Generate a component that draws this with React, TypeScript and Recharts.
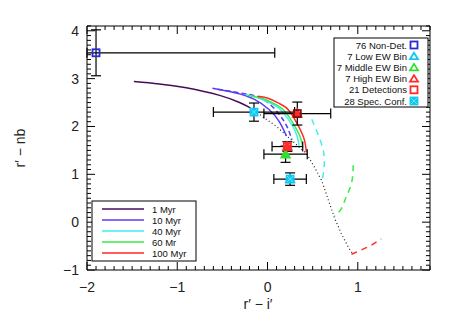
import React from 'react'
import { ComposedChart, Line, Scatter, XAxis, YAxis, ErrorBar } from 'recharts'

// model tracks (r'-i', r'-nb)
const myr1 = [
  { x: -1.48, y: 2.94 }, { x: -1.2, y: 2.89 }, { x: -0.9, y: 2.81 },
  { x: -0.53, y: 2.65 }, { x: -0.31, y: 2.5 }, { x: -0.19, y: 2.39 },
]
const myr10 = [
  { x: -0.61, y: 2.8 }, { x: -0.35, y: 2.7 }, { x: -0.15, y: 2.57 },
  { x: 0.02, y: 2.35 }, { x: 0.13, y: 2.1 }, { x: 0.21, y: 1.8 },
]
const myr10b = [
  { x: -0.55, y: 2.78 }, { x: -0.3, y: 2.7 }, { x: -0.05, y: 2.57 },
  { x: 0.13, y: 2.25 }, { x: 0.22, y: 1.98 }, { x: 0.27, y: 1.72 },
]
const myr40 = [
  { x: -0.24, y: 2.67 }, { x: -0.08, y: 2.58 }, { x: 0.07, y: 2.45 }, { x: 0.17, y: 2.3 },
  { x: 0.28, y: 2.0 }, { x: 0.33, y: 1.78 }, { x: 0.35, y: 1.6 },
]
const myr60 = [
  { x: -0.22, y: 2.65 }, { x: -0.05, y: 2.58 }, { x: 0.1, y: 2.45 }, { x: 0.2, y: 2.3 },
  { x: 0.31, y: 1.98 }, { x: 0.37, y: 1.74 }, { x: 0.39, y: 1.56 },
]
const myr100 = [
  { x: -0.11, y: 2.63 }, { x: 0.02, y: 2.58 }, { x: 0.14, y: 2.47 }, { x: 0.24, y: 2.33 },
  { x: 0.35, y: 1.98 }, { x: 0.41, y: 1.71 }, { x: 0.43, y: 1.46 },
]
const dashed40 = [
  { x: 0.49, y: 2.15 }, { x: 0.55, y: 1.88 }, { x: 0.61, y: 1.56 },
  { x: 0.63, y: 1.29 }, { x: 0.62, y: 1.04 }, { x: 0.6, y: 0.83 },
]
const dashed60 = [
  { x: 0.95, y: 1.19 }, { x: 0.93, y: 0.81 }, { x: 0.87, y: 0.52 },
  { x: 0.82, y: 0.29 }, { x: 0.74, y: 0.12 },
]
const dashed100 = [
  { x: 0.93, y: -0.67 }, { x: 1.04, y: -0.58 }, { x: 1.15, y: -0.48 }, { x: 1.26, y: -0.35 },
]
const dotted = [
  { x: -0.18, y: 2.38 }, { x: -0.05, y: 2.2 }, { x: 0.1, y: 2.0 }, { x: 0.25, y: 1.74 },
  { x: 0.38, y: 1.52 }, { x: 0.43, y: 1.44 }, { x: 0.52, y: 1.15 }, { x: 0.6, y: 0.87 },
  { x: 0.74, y: 0.1 }, { x: 0.82, y: -0.25 }, { x: 0.9, y: -0.54 }, { x: 0.95, y: -0.68 },
]

// binned observations with errors
const nonDet = [{ x: -1.9, y: 3.54, ex: 1.98, ey: 0.48 }]
const specConf = [{ x: -0.15, y: 2.3, ex: 0.45, ey: 0.19 }]
const highEW = [{ x: 0.33, y: 2.27, ex: 0.37, ey: 0.24 }]
const detections = [{ x: 0.22, y: 1.58, ex: 0.17, ey: 0.1 }]
const middleEW = [{ x: 0.2, y: 1.42, ex: 0.24, ey: 0.17 }]
const lowEW = [{ x: 0.25, y: 0.9, ex: 0.18, ey: 0.13 }]

const xDomain = [-2, 1.8]
const yDomain = [-1, 4.1]
const xMajor = [-2, -1, 0, 1]
const yMajor = [-1, 0, 1, 2, 3, 4]
const xTicks: number[] = []
for (let i = -20; i <= 18; i++) xTicks.push(i / 10)
const yTicks: number[] = []
for (let i = -10; i <= 41; i++) yTicks.push(i / 10)

const C1 = '#4a0a5a'
const C10 = '#5a3cf0'
const C40 = '#40eef0'
const C60 = '#3cea4a'
const C100 = '#ff2a2a'
const CNON = '#2a2ad0'
const CSPEC = '#10c8f0'

const tickFont = { fontFamily: 'Liberation Sans', fontSize: 14, fill: '#222' }
const isMajor = (v: number, majors: number[]) => majors.some((m) => Math.abs(m - v) < 1e-6)
const fmt = (v: number) => {
  const r = Math.round(v)
  return r < 0 ? '\u2212' + Math.abs(r) : String(r)
}

// error bars are cut at the plot frame, like the original
const clip = (pts: any[]) =>
  pts.map((d) => ({
    ...d,
    exr: [Math.min(d.ex, d.x - xDomain[0]), Math.min(d.ex, xDomain[1] - d.x)],
    eyr: [Math.min(d.ey, d.y - yDomain[0]), Math.min(d.ey, yDomain[1] - d.y)],
  }))

const BottomTick = (p: any) => {
  const m = isMajor(p.payload.value, xMajor)
  return (
    <g>
      <line x1={p.x} x2={p.x} y1={p.y} y2={p.y - (m ? 8 : 4)} stroke='#000' />
      {m && <text x={p.x} y={p.y + 22} textAnchor='middle' {...tickFont}>{fmt(p.payload.value)}</text>}
    </g>
  )
}
const TopTick = (p: any) => {
  const m = isMajor(p.payload.value, xMajor)
  return <line x1={p.x} x2={p.x} y1={p.y} y2={p.y + (m ? 8 : 4)} stroke='#000' />
}
const LeftTick = (p: any) => {
  const m = isMajor(p.payload.value, yMajor)
  return (
    <g>
      <line x1={p.x} x2={p.x + (m ? 8 : 4)} y1={p.y} y2={p.y} stroke='#000' />
      {m && <text x={p.x - 8} y={p.y + 5} textAnchor='end' {...tickFont}>{fmt(p.payload.value)}</text>}
    </g>
  )
}
const RightTick = (p: any) => {
  const m = isMajor(p.payload.value, yMajor)
  return <line x1={p.x} x2={p.x - (m ? 8 : 4)} y1={p.y} y2={p.y} stroke='#000' />
}

const Square = ({ cx, cy, color, filled }: any) => (
  <g>
    <rect x={cx - 3.5} y={cy - 3.5} width={7} height={7} fill={filled ? color : 'none'} stroke={color} strokeWidth={1.8} />
    {filled && <path d={`M${cx - 3} ${cy - 3}L${cx + 3} ${cy + 3}M${cx + 3} ${cy - 3}L${cx - 3} ${cy + 3}`} stroke='#7fe4ff' strokeWidth={0.8} />}
  </g>
)
const Tri = ({ cx, cy, color }: any) => (
  <path d={`M${cx} ${cy - 4.5}L${cx + 4.5} ${cy + 3.5}L${cx - 4.5} ${cy + 3.5}Z`} fill={color} stroke={color} strokeWidth={1.5} />
)

const legendFont = { fontFamily: 'Liberation Sans', fontSize: 9.5, fill: '#111' }
const pointLegend = [
  { label: '76 Non-Det.', kind: 'sq', color: CNON },
  { label: '7 Low EW Bin', kind: 'tri', color: CSPEC },
  { label: '7 Middle EW Bin', kind: 'tri', color: '#30e030' },
  { label: '7 High EW Bin', kind: 'tri', color: C100 },
  { label: '21 Detections', kind: 'sq', color: C100 },
  { label: '28 Spec. Conf.', kind: 'fsq', color: CSPEC },
]
const lineLegend = [
  { label: '1 Myr', color: C1 },
  { label: '10 Myr', color: C10 },
  { label: '40 Myr', color: C40 },
  { label: '60 Mr', color: C60 },
  { label: '100 Myr', color: C100 },
]

export default function App() {
  const lineProps = { dataKey: 'y', dot: false, isAnimationActive: false, strokeWidth: 1.5 }
  const err = { width: 5, stroke: '#000', strokeWidth: 1.2 }
  const bars = [
    <ErrorBar key='ex' dataKey='exr' direction='x' {...err} />,
    <ErrorBar key='ey' dataKey='eyr' direction='y' {...err} />,
  ]
  return (
    <div style={{ position: 'relative', width: 449, height: 318 }}>
      <ComposedChart width={449} height={318} margin={{ top: 8, right: 17, bottom: 26, left: 49 }}>
        <XAxis xAxisId={0} dataKey='x' type='number' domain={xDomain} allowDataOverflow ticks={xTicks}
          interval={0} tickSize={0} tickMargin={0} height={30} stroke='#000' tick={<BottomTick />} />
        <XAxis xAxisId='top' orientation='top' dataKey='x' type='number' domain={xDomain} allowDataOverflow
          ticks={xTicks} interval={0} tickSize={0} tickMargin={0} height={10} stroke='#000' tick={<TopTick />} />
        <YAxis yAxisId={0} dataKey='y' type='number' domain={yDomain} allowDataOverflow ticks={yTicks}
          interval={0} tickSize={0} tickMargin={0} width={30} stroke='#000' tick={<LeftTick />} />
        <YAxis yAxisId='right' orientation='right' dataKey='y' type='number' domain={yDomain} allowDataOverflow
          ticks={yTicks} interval={0} tickSize={0} tickMargin={0} width={10} stroke='#000' tick={<RightTick />} />

        <Line {...lineProps} data={dotted} type='linear' stroke='#222' strokeWidth={1.2} strokeDasharray='1 2.6' />
        <Line {...lineProps} data={myr1} type='natural' stroke={C1} />
        <Line {...lineProps} data={myr10} type='natural' stroke={C10} />
        <Line {...lineProps} data={myr10b} type='natural' stroke={C10} strokeDasharray='5 3' />
        <Line {...lineProps} data={myr40} type='natural' stroke={C40} />
        <Line {...lineProps} data={myr60} type='natural' stroke={C60} />
        <Line {...lineProps} data={myr100} type='natural' stroke={C100} />
        <Line {...lineProps} data={dashed40} type='natural' stroke={C40} strokeDasharray='6 5' />
        <Line {...lineProps} data={dashed60} type='natural' stroke={C60} strokeDasharray='6 5' />
        <Line {...lineProps} data={dashed100} type='natural' stroke={C100} strokeDasharray='6 5' />

        <Scatter data={clip(nonDet)} isAnimationActive={false} shape={(p: any) => <Square {...p} color={CNON} />}>
          {bars}
        </Scatter>
        <Scatter data={clip(specConf)} isAnimationActive={false} shape={(p: any) => <Square {...p} color={CSPEC} filled />}>
          {bars}
        </Scatter>
        <Scatter data={clip(highEW)} isAnimationActive={false} shape={(p: any) => <g><Tri {...p} color={C100} /><Square {...p} color='#801010' /></g>}>
          {bars}
        </Scatter>
        <Scatter data={clip(middleEW)} isAnimationActive={false} shape={(p: any) => <Tri {...p} color='#30e030' />}>
          {bars}
        </Scatter>
        <Scatter data={clip(detections)} isAnimationActive={false} shape={(p: any) => <g><Tri {...p} color={C100} /><Square {...p} color={C100} /></g>}>
          {bars}
        </Scatter>
        <Scatter data={clip(lowEW)} isAnimationActive={false} shape={(p: any) => <g><Tri {...p} color={CSPEC} /><Square {...p} color={CSPEC} filled /></g>}>
          {bars}
        </Scatter>
      </ComposedChart>

      <svg width={449} height={318} style={{ position: 'absolute', left: 0, top: 0, pointerEvents: 'none' }}>
        <text x={250} y={301} textAnchor='middle' {...tickFont}>r′ − i′</text>
        <text x={17} y={140} textAnchor='middle' transform='rotate(-90 17 140)' {...tickFont}>r′ − nb</text>

        <g transform='translate(326 30)'>
          <rect x={0} y={0} width={94} height={69} fill='#fff' stroke='#000' strokeWidth={1} />
          {pointLegend.map((d, i) => {
            const cy = 7 + i * 11.2
            return (
              <g key={d.label}>
                <text x={73} y={cy + 3.5} textAnchor='end' {...legendFont}>{d.label}</text>
                {d.kind === 'tri'
                  ? <path d={`M80 ${cy - 3.5}L84 ${cy + 3}L76 ${cy + 3}Z`} fill='none' stroke={d.color} strokeWidth={1.8} />
                  : <Square cx={80} cy={cy} color={d.color} filled={d.kind === 'fsq'} />}
              </g>
            )
          })}
        </g>

        <g transform='translate(84 193)'>
          <rect x={0} y={0} width={104} height={60} fill='#fff' stroke='#000' strokeWidth={1} />
          {lineLegend.map((d, i) => {
            const cy = 8 + i * 11
            return (
              <g key={d.label}>
                <line x1={10} x2={52} y1={cy} y2={cy} stroke={d.color} strokeWidth={1.5} />
                <text x={60} y={cy + 3.5} {...legendFont}>{d.label}</text>
              </g>
            )
          })}
        </g>
      </svg>
    </div>
  )
}
